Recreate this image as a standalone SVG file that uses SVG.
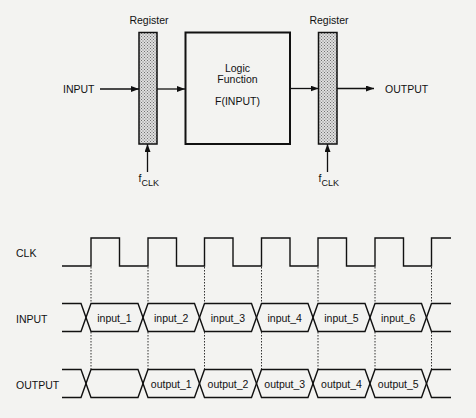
<svg xmlns="http://www.w3.org/2000/svg" width="476" height="418" viewBox="0 0 476 418">
<style>
text{font-family:"Liberation Sans",Arial,sans-serif;font-size:10.5px;fill:#111}
.c{text-anchor:middle}
.ln{fill:none;stroke:#111;stroke-width:1.4}
.ar{fill:none;stroke:#111;stroke-width:1.3}
.dot{fill:none;stroke:#333;stroke-width:1;stroke-dasharray:1.5 1.5}
.reg{fill:url(#stip);stroke:#111;stroke-width:1.5}
.sub{font-size:9px}
</style>
<defs>
<pattern id="stip" width="3" height="3" patternUnits="userSpaceOnUse">
<rect width="3" height="3" fill="#dedede"/>
<rect x="0" y="0" width="1" height="1" fill="#707070"/>
<rect x="1.5" y="1.5" width="1" height="1" fill="#707070"/>
</pattern>
<marker id="ah" markerWidth="8" markerHeight="6" refX="8" refY="3" orient="auto" markerUnits="userSpaceOnUse">
<path d="M0,0 L8,3 L0,6 z" fill="#111"/>
</marker>
</defs>
<rect width="476" height="418" fill="#f3f3f1"/>

<g id="reg1">
<text class="c" x="149" y="24">Register</text>
<rect class="reg" x="139" y="32.5" width="18" height="111.5"/>
</g>
<g id="logic">
<rect x="185.5" y="32.5" width="104.5" height="111.5" fill="none" stroke="#111" stroke-width="2"/>
<text class="c" x="237.5" y="72">Logic</text>
<text class="c" x="237.5" y="83">Function</text>
<text class="c" x="237.5" y="104.5">F(INPUT)</text>
</g>
<g id="reg2">
<text class="c" x="329" y="24">Register</text>
<rect class="reg" x="318.5" y="32.5" width="18.5" height="111.5"/>
</g>
<g id="in-label"><text x="63" y="93">INPUT</text></g>
<g id="out-label"><text x="385" y="92.5">OUTPUT</text></g>
<g id="fclk1"><text x="138.5" y="182">f<tspan class="sub" dy="3.5">CLK</tspan></text></g>
<g id="fclk2"><text x="318.5" y="182">f<tspan class="sub" dy="3.5">CLK</tspan></text></g>

<g id="connectors">
<line class="ar" x1="100" y1="89" x2="139" y2="89" marker-end="url(#ah)"/>
<line class="ar" x1="157" y1="89" x2="185" y2="89" marker-end="url(#ah)"/>
<line class="ar" x1="290" y1="88.5" x2="318.5" y2="88.5" marker-end="url(#ah)"/>
<line class="ar" x1="337" y1="88.5" x2="374" y2="88.5" marker-end="url(#ah)"/>
<line class="ar" x1="147.5" y1="172" x2="147.5" y2="144" marker-end="url(#ah)"/>
<line class="ar" x1="327.5" y1="172" x2="327.5" y2="144" marker-end="url(#ah)"/>
</g>

<g id="timing">
<text x="16" y="257">CLK</text>
<text x="16" y="323">INPUT</text>
<text x="16" y="389">OUTPUT</text>
<path class="ln" d="M62,266 H91 V238 H119.5 V266 H148 V238 H176.5 V266 H204.5 V238 H233 V266 H261.5 V238 H290 V266 H318 V238 H346.5 V266 H375 V238 H403.5 V266 H431.5 V238 H451"/>
<path class="ln" d="M62,303.5 H81 L91,331.5 H138 L148,303.5 H194.5 L204.5,331.5 H251.5 L261.5,303.5 H308 L318,331.5 H365 L375,303.5 H421.5 L431.5,331.5 H451"/>
<path class="ln" d="M62,331.5 H81 L91,303.5 H138 L148,331.5 H194.5 L204.5,303.5 H251.5 L261.5,331.5 H308 L318,303.5 H365 L375,331.5 H421.5 L431.5,303.5 H451"/>
<path class="ln" d="M62,369.5 H81 L91,397.5 H138 L148,369.5 H194.5 L204.5,397.5 H251.5 L261.5,369.5 H308 L318,397.5 H365 L375,369.5 H421.5 L431.5,397.5 H451"/>
<path class="ln" d="M62,397.5 H81 L91,369.5 H138 L148,397.5 H194.5 L204.5,369.5 H251.5 L261.5,397.5 H308 L318,369.5 H365 L375,397.5 H421.5 L431.5,369.5 H451"/>
<path class="dot" d="M91,267 V303 M91,332 V369 M148,267 V303 M148,332 V369 M204.5,267 V303 M204.5,332 V369 M261.5,267 V303 M261.5,332 V369 M318,267 V303 M318,332 V369 M375,267 V303 M375,332 V369 M431.5,267 V303 M431.5,332 V369"/>
<text class="c" x="114.5" y="321.5">input_1</text>
<text class="c" x="171.25" y="321.5">input_2</text>
<text class="c" x="228" y="321.5">input_3</text>
<text class="c" x="284.75" y="321.5">input_4</text>
<text class="c" x="341.5" y="321.5">input_5</text>
<text class="c" x="398.25" y="321.5">input_6</text>
<text class="c" x="171.25" y="387.5">output_1</text>
<text class="c" x="228" y="387.5">output_2</text>
<text class="c" x="284.75" y="387.5">output_3</text>
<text class="c" x="341.5" y="387.5">output_4</text>
<text class="c" x="398.25" y="387.5">output_5</text>
</g>
</svg>
